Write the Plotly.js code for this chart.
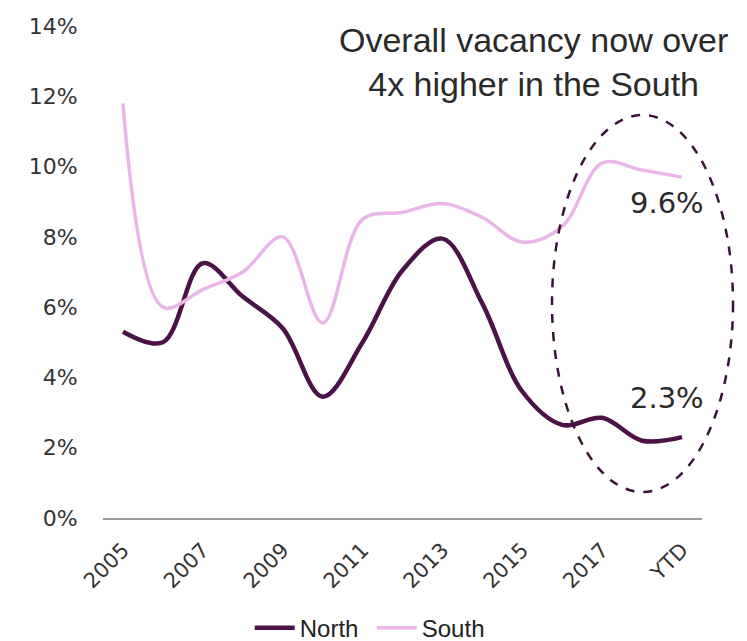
<!DOCTYPE html>
<html>
<head>
<meta charset="utf-8">
<script src="https://cdn.plot.ly/plotly-3.0.1.min.js"></script>
<style>html,body{margin:0;padding:0;background:#fff;}#chart{width:747px;height:641px;}</style>
</head>
<body>
<div id="chart"></div>
<script>
const categories = ['2005','2006','2007','2008','2009','2010','2011','2012','2013','2014','2015','2016','2017','2018','YTD'];
const north = [5.3, 5.0, 7.25, 6.3, 5.4, 3.45, 5.0, 7.05, 7.95, 6.1, 3.6, 2.65, 2.85, 2.2, 2.3];
const south = [11.8, 6.0, 6.5, 7.0, 8.0, 5.55, 8.5, 8.7, 8.95, 8.55, 7.85, 8.3, 10.1, 9.9, 9.7];
const yTickVals = [0, 2, 4, 6, 8, 10, 12, 14];
const yTickText = ['0%', '2%', '4%', '6%', '8%', '10%', '12%', '14%'];
const calloutTitle = 'Overall vacancy now over<br>4x higher in the South';
const southLabel = '9.6%';
const northLabel = '2.3%';

const traces = [
  {x: categories, y: north, name: 'North', type: 'scatter', mode: 'lines',
   line: {color: '#4b1248', width: 4.5, shape: 'spline', smoothing: 1}},
  {x: categories, y: south, name: 'South', type: 'scatter', mode: 'lines',
   line: {color: '#eab6ea', width: 3.5, shape: 'spline', smoothing: 1}}
];

const geo = 'DejaVu Sans, Verdana, sans-serif';
const layout = {
  width: 747, height: 641,
  margin: {l: 103, r: 45, t: 26, b: 123, autoexpand: false},
  paper_bgcolor: '#ffffff', plot_bgcolor: '#ffffff',
  font: {family: 'Liberation Sans, Arial, sans-serif', color: '#333'},
  showlegend: true,
  legend: {orientation: 'h', x: 0.245, xanchor: 'left', y: -0.224, yanchor: 'middle',
           font: {size: 24, color: '#222'}, itemwidth: 40, tracegroupgap: 0,
           entrywidth: 67, entrywidthmode: 'pixels'},
  xaxis: {type: 'category', range: [-0.5, 14.5], showgrid: false, zeroline: false,
          showline: true, linecolor: '#9a9a9a', linewidth: 1.5, automargin: false,
          tickmode: 'array', tickvals: categories.filter((c, i) => i % 2 === 0),
          ticktext: categories.filter((c, i) => i % 2 === 0),
          tickangle: -45, ticks: 'outside', ticklen: 10, tickcolor: 'rgba(0,0,0,0)',
          tickfont: {family: geo, size: 21, color: '#333'}},
  yaxis: {range: [0, 14], showgrid: false, zeroline: false, showline: false, automargin: false,
          tickmode: 'array', tickvals: yTickVals, ticktext: yTickText,
          ticks: 'outside', ticklen: 20, tickcolor: 'rgba(0,0,0,0)',
          tickfont: {family: geo, size: 22, color: '#333'}},
  shapes: [
    {type: 'circle', xref: 'paper', yref: 'paper', x0: 0.7496, x1: 1.0518, y0: 0.0528, y1: 0.819,
     line: {color: '#3a1238', width: 2.5, dash: 'dash'}}
  ],
  annotations: [
    {xref: 'paper', yref: 'paper', x: (533 - 103) / 599, y: (518 - 62) / 492, xanchor: 'center', yanchor: 'middle',
     text: calloutTitle, showarrow: false, font: {size: 34, color: '#2a2a2a'}, align: 'center'},
    {xref: 'paper', yref: 'paper', x: (667 - 103) / 599, y: (518 - 203) / 492, xanchor: 'center', yanchor: 'middle',
     text: southLabel, showarrow: false, font: {family: geo, size: 29, color: '#2a2a2a'}},
    {xref: 'paper', yref: 'paper', x: (667 - 103) / 599, y: (518 - 398) / 492, xanchor: 'center', yanchor: 'middle',
     text: northLabel, showarrow: false, font: {family: geo, size: 29, color: '#2a2a2a'}}
  ]
};

Plotly.newPlot('chart', traces, layout, {staticPlot: true, displayModeBar: false});
</script>
</body>
</html>
